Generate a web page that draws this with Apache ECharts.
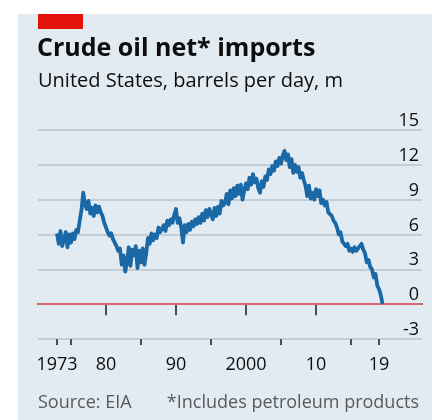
<!DOCTYPE html>
<html>
<head>
<meta charset="utf-8">
<script src="https://cdn.jsdelivr.net/npm/echarts@6/dist/echarts.min.js"></script>
<style>
html,body{margin:0;padding:0;background:#ffffff;}
#chart{width:432px;height:420px;}
</style>
</head>
<body>
<div id="chart"></div>
<script>
// ---- data (quarterly, million barrels per day) ----
const startYear = 1973;
const pointsPerYear = 4;
const netImports = [
  6.1, 5.2, 6.3, 5.0,   // 1973
  5.6, 6.2, 4.9, 6.0,   // 1974
  5.3, 6.1, 5.6, 6.4,   // 1975
  6.2, 7.2, 8.1, 9.6,   // 1976
  8.6, 8.2, 8.9, 7.8,   // 1977
  8.3, 7.6, 8.5, 7.9,   // 1978
  8.4, 7.9, 7.6, 7.0,   // 1979
  6.6, 6.2, 5.9, 6.1,   // 1980
  5.6, 5.3, 5.0, 4.6,   // 1981
  4.8, 3.4, 4.2, 2.8,   // 1982
  3.6, 4.9, 3.3, 4.7,   // 1983
  4.2, 5.0, 3.1, 4.6,   // 1984
  3.6, 4.8, 3.4, 4.4,   // 1985
  5.7, 5.2, 6.1, 5.5,   // 1986
  6.0, 5.7, 6.6, 6.2,   // 1987
  6.5, 6.8, 6.3, 7.2,   // 1988
  6.8, 7.3, 7.0, 7.7,   // 1989
  8.2, 7.0, 7.4, 6.6,   // 1990
  5.3, 6.8, 6.2, 6.9,   // 1991
  6.4, 7.1, 6.7, 7.3,   // 1992
  6.9, 7.5, 7.0, 7.8,   // 1993
  7.2, 8.1, 7.5, 8.2,   // 1994
  7.8, 7.3, 8.3, 7.6,   // 1995
  8.4, 7.8, 8.9, 8.5,   // 1996
  8.7, 9.5, 8.6, 9.8,   // 1997
  9.1, 10.0, 9.3, 10.2, // 1998
  9.5, 10.3, 9.0, 9.8,  // 1999
  10.4, 9.9, 10.9, 10.3,// 2000
  11.2, 10.5, 10.8, 10.0,// 2001
  9.6, 10.6, 10.1, 11.0,// 2002
  10.7, 11.6, 11.2, 11.9,// 2003
  11.5, 12.3, 11.9, 12.6,// 2004
  12.1, 12.8, 13.2, 12.4,// 2005
  12.9, 11.8, 12.5, 11.3,// 2006
  12.0, 11.4, 11.8, 10.9,// 2007
  11.3, 10.7, 10.2, 9.3, // 2008
  10.2, 9.1, 9.6, 9.0,  // 2009
  9.9, 9.3, 9.8, 8.7,   // 2010
  9.0, 8.5, 8.8, 7.9,   // 2011
  8.0, 7.6, 7.2, 7.0,   // 2012
  6.6, 6.0, 6.2, 5.4,   // 2013
  5.5, 5.0, 5.2, 4.6,   // 2014
  4.8, 4.5, 4.9, 4.6,   // 2015
  4.6, 5.0, 5.2, 4.7,   // 2016
  4.4, 3.6, 3.8, 3.2,   // 2017
  3.0, 2.3, 2.6, 1.6,   // 2018
  1.3, 0.8, 0.0         // 2019
];
const yTicks = [-3, 0, 3, 6, 9, 12, 15];
const xLabelYears = [1973, 1980, 1990, 2000, 2010, 2019];
const xLabelTexts = ['1973', '80', '90', '2000', '10', '19'];
const majorTickYears = [1980, 1990, 2000, 2010];
const minorTickYears = [1973, 1975, 1985, 1995, 2005, 2015, 2019];

const seriesData = netImports.map((v, i) => [startYear + i / pointsPerYear, v]);

const FONT = 'Open Sans';
const chart = echarts.init(document.getElementById('chart'), null, {renderer: 'canvas'});
chart.setOption({
  animation: false,
  backgroundColor: '#ffffff',
  graphic: [
    {type: 'rect', z: -10, shape: {x: 18, y: 14, width: 414, height: 406}, style: {fill: '#e3ebf2'}},
    {type: 'rect', shape: {x: 38, y: 14, width: 45, height: 15}, style: {fill: '#e3120b'}},
    {type: 'text', left: 37, top: 36, style: {text: 'Crude oil net* imports', font: 'bold 25px "Open Sans"', fill: '#0d0d0d'}},
    {type: 'text', left: 38, top: 71, style: {text: 'United States, barrels per day, m', font: '20px "Open Sans"', fill: '#0d0d0d'}},
    {type: 'text', left: 38, top: 394, style: {text: 'Source: EIA', font: '18px "Open Sans"', fill: '#595959'}},
    {type: 'text', right: 13, top: 394, style: {text: '*Includes petroleum products', font: '18px "Open Sans"', fill: '#595959'}}
  ],
  grid: {left: 38, right: 10, top: 130, bottom: 81, containLabel: false},
  xAxis: [
    {
      type: 'value', min: 1970.29, max: 2025.14,
      splitLine: {show: false},
      axisLine: {show: true, lineStyle: {color: '#4d4d4d', width: 2}},
      axisTick: {show: true, customValues: majorTickYears, length: 11, lineStyle: {color: '#4d4d4d', width: 2}},
      axisLabel: {
        show: true, customValues: xLabelYears, margin: 17,
        fontFamily: FONT, fontSize: 18, color: '#0d0d0d',
        formatter: v => xLabelTexts[xLabelYears.indexOf(Math.round(v))] || ''
      }
    },
    {
      type: 'value', min: 1970.29, max: 2025.14, position: 'bottom',
      splitLine: {show: false},
      axisLine: {show: false},
      axisTick: {show: true, customValues: minorTickYears, length: 6, lineStyle: {color: '#4d4d4d', width: 2}},
      axisLabel: {show: false}
    }
  ],
  yAxis: {
    type: 'value', position: 'right', min: -3, max: 15, interval: 3,
    axisLine: {show: false}, axisTick: {show: false},
    splitLine: {show: true, lineStyle: {color: '#b9c4ce', width: 1.5}},
    axisLabel: {
      inside: true, align: 'right', verticalAlign: 'bottom', margin: 3,
      fontFamily: FONT, fontSize: 18, color: '#0d0d0d',
      customValues: yTicks
    }
  },
  series: [{
    type: 'line', xAxisIndex: 0, data: seriesData, showSymbol: false,
    lineStyle: {color: '#1a69a6', width: 3.8, join: 'round'},
    z: 5,
    markLine: {
      silent: true, symbol: 'none', label: {show: false},
      lineStyle: {color: '#e0676d', width: 2, type: 'solid'},
      data: [{yAxis: 0}], z: 4
    }
  }]
});
</script>
</body>
</html>
